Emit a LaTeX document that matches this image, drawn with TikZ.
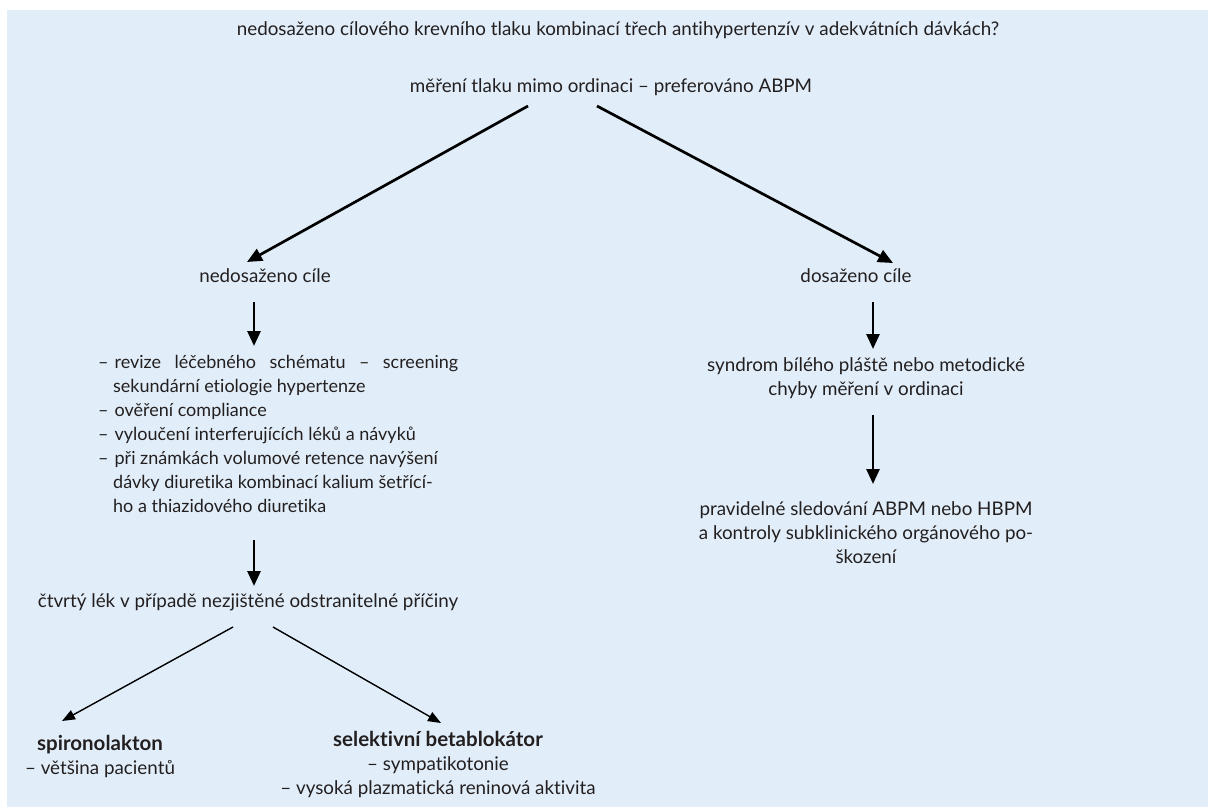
\documentclass[tikz,border=0pt]{standalone}
\usepackage{fontspec}
\setmainfont{Lato}[Ligatures=NoCommon]
\usetikzlibrary{arrows.meta}
\definecolor{panel}{HTML}{E1EEF9}
\definecolor{ink}{HTML}{231F20}
\tikzset{
  txt/.style={inner sep=0pt, text=ink, font=\fontsize{18.8}{24}\selectfont, align=center},
  listtxt/.style={inner sep=0pt, text=ink, font=\fontsize{18}{24}\selectfont, align=left},
  thick arrow/.style={line width=2.7pt, draw=black, -{Triangle[length=15pt,width=13pt]}},
  thin arrow/.style={line width=1.4pt, draw=black, -{Triangle[length=13pt,width=10pt]}}
}
\newcommand{\heavytxt}[1]{{\fontsize{20.5}{24}\bfseries\selectfont #1}}
\begin{document}
\begin{tikzpicture}[x=1pt,y=-1pt]
\useasboundingbox (0,0) rectangle (1208,807);
\fill[panel] (7,10) rectangle (1208,807);
% nodes
\node[txt] (q) at (618,30) {nedosaženo cílového krevního tlaku kombinací třech antihypertenzív v adekvátních dávkách?};
\node[txt] (m) at (611,87) {měření tlaku mimo ordinaci – preferováno ABPM};
\node[txt] (nc) at (265,276) {nedosaženo cíle};
\node[txt] (dc) at (856,276) {dosaženo cíle};
\node[listtxt, anchor=north west] (list) at (98,355) {%
\hbox to 360pt{–\hspace{6pt}revize\hfill léčebného\hfill schématu\hfill –\hfill screening}\\
\hspace{15pt}sekundární etiologie hypertenze\\
–\hspace{6pt}ověření compliance\\
–\hspace{6pt}vyloučení interferujících léků a návyků\\
–\hspace{6pt}při známkách volumové retence navýšení\\
\hspace{15pt}dávky diuretika kombinací kalium šetřící-\\
\hspace{15pt}ho a thiazidového diuretika};
\node[txt] (ctv) at (248,602) {čtvrtý lék v případě nezjištěné odstranitelné příčiny};
\node[txt] (sp) at (100,756) {\heavytxt{spironolakton}\\– většina pacientů};
\node[txt] (bb) at (438,764) {\heavytxt{selektivní betablokátor}\\– sympatikotonie\\– vysoká plazmatická reninová aktivita};
\node[txt] (sy) at (866,378) {syndrom bílého pláště nebo metodické\\chyby měření v ordinaci};
\node[txt] (pr) at (866,533) {pravidelné sledování ABPM nebo HBPM\\a kontroly subklinického orgánového po-\\škození};
% connector end coordinates
\coordinate (m1) at (528,106);
\coordinate (m2) at (597,106);
\coordinate (ncT) at (247,262);
\coordinate (dcT) at (893,263);
\coordinate (nc1) at (254,302);
\coordinate (list0) at (254,346);
\coordinate (list1) at (254,540);
\coordinate (ctv0) at (254,586);
\coordinate (dc1) at (873,302);
\coordinate (sy0) at (873,349);
\coordinate (sy1) at (873,415);
\coordinate (pr0) at (873,484);
\coordinate (c1) at (233,627);
\coordinate (c2) at (273,627);
\coordinate (spT) at (62,721);
\coordinate (bbT) at (441,723);
% connectors
\draw[thick arrow] (m1) -- (ncT);
\draw[thick arrow] (m2) -- (dcT);
\draw[thick arrow] (nc1) -- (list0);
\draw[thick arrow] (list1) -- (ctv0);
\draw[thick arrow] (dc1) -- (sy0);
\draw[thick arrow] (sy1) -- (pr0);
\draw[thin arrow] (c1) -- (spT);
\draw[thin arrow] (c2) -- (bbT);
\end{tikzpicture}
\end{document}
